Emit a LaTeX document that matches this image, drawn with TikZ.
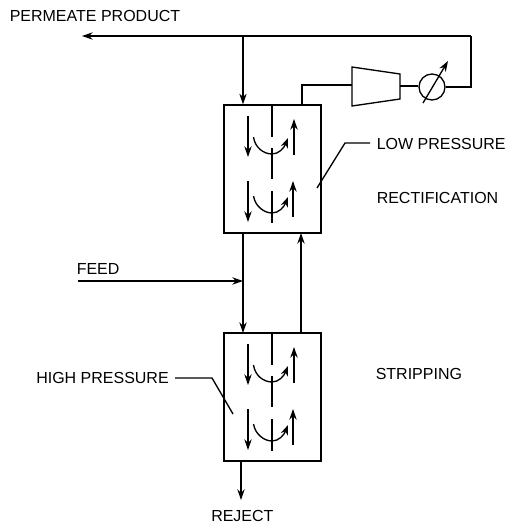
\documentclass[tikz,border=0pt]{standalone}
\usepackage{fontspec}
\setmainfont{Liberation Sans}
\usetikzlibrary{arrows.meta}
\tikzset{
  line/.style={line width=1pt,line cap=butt,line join=miter,draw=black},
  flow/.style={line,-{Stealth[length=8pt,width=5.5pt]}},
  curveflow/.style={line,-{Stealth[length=7.5pt,width=5.5pt]}},
  column/.style={draw=black,line width=1pt,minimum width=72.75pt,minimum height=96pt,inner sep=0pt,fill=none},
  lbl/.style={font=\fontsize{12pt}{13pt}\selectfont,inner sep=0pt,text=black,anchor=west},
  comp/.style={line},
  valve/.style={circle,draw=black,line width=1pt,minimum size=19.5pt,inner sep=0pt},
}
\newcommand{\trays}[2]{%
  \begin{scope}[shift={(#1,#2)}]
    \draw[line] (272,105) -- (272,137);
    \draw[line] (272,148) -- (272,179);
    \draw[line] (272,191) -- (272,223);
    \draw[flow] (248,116) -- (248,157);
    \draw[flow] (248,181) -- (248,222);
    \draw[flow] (294,155) -- (294,119);
    \draw[flow] (293,217) -- (293,181);
    \draw[curveflow] (253.5,137) .. controls (255,148) and (264,154) .. (272,154) .. controls (279,154) and (284,148) .. (288,138);
    \draw[curveflow] (253.5,196) .. controls (255,206) and (264,213) .. (272,213) .. controls (279,213) and (284,207) .. (288,197);
  \end{scope}}
\begin{document}
\begin{tikzpicture}[x=0.75pt,y=-0.75pt]
\useasboundingbox (0,0) rectangle (506,524);
% labels
\node[lbl] (perm) at (9.5,16) {PERMEATE PRODUCT};
\node[lbl] (lowp) at (376.5,144) {LOW PRESSURE};
\node[lbl] (rect) at (376.5,198) {RECTIFICATION};
\node[lbl] (feedl) at (76.5,269) {FEED};
\node[lbl] (strip) at (375.5,374) {STRIPPING};
\node[lbl] (highp) at (36,378) {HIGH PRESSURE};
\node[lbl] (rej) at (211,516) {REJECT};
% columns
\node[column] (upper) at (272.5,169) {};
\node[column] (lower) at (272.5,397) {};
\trays{0}{0}
\trays{0}{228}
% coordinates
\coordinate (outlet) at (82,36);
\coordinate (topj) at (243,36);
\coordinate (topr) at (471,36);
\coordinate (feedin) at (78,281);
\coordinate (feedj) at (243,281);
\coordinate (rejend) at (241,500);
% compressor
\coordinate (c1) at (352,67);
\coordinate (c2) at (400,74);
\coordinate (c3) at (400,99);
\coordinate (c4) at (352,106);
\draw[comp] (c1) -- (c2) -- (c3) -- (c4) -- cycle;
\coordinate (cin) at (352,85);
\coordinate (cout) at (400,86);
\node[valve] (hx) at (432,87) {};
\coordinate (hxa) at (423,103);
\coordinate (hxb) at (448,61);
\draw[flow] (hxa) -- (hxb);
% connectors
\draw[flow] (topr) -- (outlet);
\draw[flow] (topj) -- (topj |- upper.north);
\draw[line] (hx.east) -- (topr |- hx.east) -- (topr);
\draw[line] (cout) -- (hx.west |- cout);
\draw[line] (cin) -- (302,85) -- (302,105);
\draw[flow] (243,233) -- (243,333);
\draw[flow] (301,333) -- (301,233);
\draw[flow] (feedin) -- (feedj);
\draw[flow] (241,461) -- (rejend);
% leaders
\draw[line] (370,143) -- (345,143) -- (317,188);
\draw[line] (175,378) -- (212,378) -- (233,414);
\end{tikzpicture}
\end{document}
